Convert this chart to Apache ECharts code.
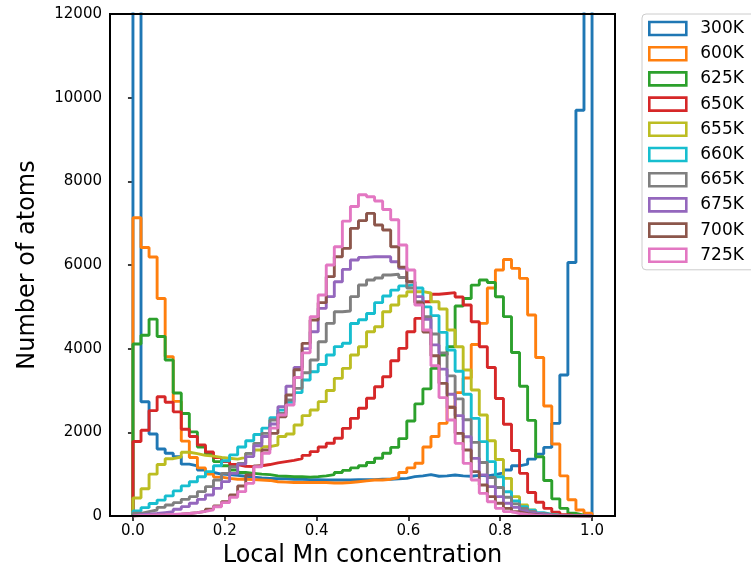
<!DOCTYPE html>
<html>
<head>
<meta charset="utf-8">
<script src="https://cdn.jsdelivr.net/npm/echarts@6/dist/echarts.min.js"></script>
<style>
html,body{margin:0;padding:0;background:#ffffff;}
#chart{width:751px;height:569px;}
</style>
</head>
<body>
<div id="chart"></div>
<script>
// ---- data ----
const nBins = 57; // histogram bins spanning 0..1
const xTickValues = [0, 0.2, 0.4, 0.6, 0.8, 1.0];
const yMax = 12000;
const yInterval = 2000;
const seriesNames = ['300K','600K','625K','650K','655K','660K','665K','675K','700K','725K'];
const seriesColors = ['#1f77b4','#ff7f0e','#2ca02c','#d62728','#bcbd22','#17becf','#7f7f7f','#9467bd','#8c564b','#e377c2'];

const counts300K = [30000,2730,1960,1600,1500,1420,1240,1200,1100,1040,
  1000,990,970,950,930,910,900,890,890,880,
  880,870,870,860,860,860,860,870,870,870,
  880,880,890,900,940,960,990,950,960,980,
  960,950,970,960,990,1030,1100,1200,1240,1360,
  1480,1640,2215,3370,6060,9700,30000];
const counts600K = [7130,6420,6190,5200,3810,2740,1790,1400,1150,1000,
  930,900,880,880,870,860,850,820,810,800,
  800,800,800,800,790,790,800,820,840,860,
  860,880,920,1040,1150,1260,1650,1900,2215,2600,
  2950,3300,4100,4605,5450,5880,6130,5920,5680,4804,
  3790,2630,1720,960,390,143,64];
const counts625K = [4110,4320,4705,4290,3730,2940,2450,2010,1650,1470,
  1300,1200,1100,1040,1020,1000,990,960,950,940,
  940,930,940,960,990,1040,1090,1150,1200,1280,
  1380,1500,1640,1850,2270,2680,3040,3530,3850,4050,
  5020,5200,5520,5640,5580,5240,4765,3910,3100,2285,
  1418,850,410,183,64,20,5];
const counts650K = [1780,2050,2520,2850,2720,2490,2075,1900,1700,1530,
  1400,1300,1230,1190,1180,1200,1230,1270,1300,1330,
  1370,1450,1540,1650,1740,1860,2095,2334,2574,2813,
  3091,3330,3710,4007,4405,4724,5123,5300,5320,5340,
  5235,5043,4645,4047,3550,2810,2195,1566,1020,560,
  330,183,90,30,10,3,1];
const counts655K = [430,650,1000,1230,1370,1410,1525,1490,1450,1430,
  1400,1380,1360,1400,1498,1577,1657,1697,1900,1960,
  2175,2400,2533,2733,3000,3290,3529,3848,4047,4405,
  4525,4884,5043,5258,5362,5362,5330,5123,4950,4445,
  4047,3489,3011,2414,1800,1350,900,462,263,143,
  60,30,12,5,2,1,0];
const counts660K = [120,200,300,380,480,600,720,820,940,1060,
  1200,1320,1460,1650,1800,1950,2100,2350,2530,2720,
  2950,3250,3450,3620,3850,4050,4130,4600,4690,4840,
  5100,5260,5400,5500,5530,5450,5000,4790,4390,3967,
  3460,2910,2334,1777,1299,940,580,360,220,140,
  80,40,20,10,5,2,1];
const counts665K = [64,104,143,207,263,319,398,462,582,701,
  860,1020,1179,1259,1498,1737,1976,2294,2454,2773,
  3051,3425,3728,4166,4605,4884,4900,5243,5521,5640,
  5690,5760,5780,5700,5450,5123,4765,4350,3900,3350,
  2800,2300,1760,1280,920,680,450,290,180,110,
  60,30,15,8,4,2,1];
const counts675K = [30,45,60,80,100,160,223,303,398,502,
  661,821,1020,1240,1420,1680,1900,2200,2613,3100,
  3550,4000,4405,4964,5243,5600,5895,6118,6182,6198,
  6200,6198,6079,5919,5600,5243,4700,4090,3510,2910,
  2400,1896,1378,980,701,462,303,207,120,70,
  40,20,10,5,2,1,0];
const counts700K = [10,15,20,25,35,45,60,80,110,160,
  239,343,502,717,980,1195,1577,1976,2374,2892,
  3497,4127,4685,5100,5721,6198,6397,6876,7060,7234,
  6955,6835,6437,5950,5600,5100,4400,3830,3171,2600,
  1976,1577,1060,741,462,303,183,100,55,30,
  15,8,4,2,1,0,0];
const counts725K = [15,20,25,30,40,50,60,80,110,150,
  220,320,450,582,781,1179,1500,2100,2414,2653,
  3310,3900,4765,5282,6000,6437,7050,7400,7680,7630,
  7530,7325,7080,6477,5879,5043,4445,3590,2830,2294,
  1737,1259,860,542,342,183,104,60,35,20,
  10,5,2,1,0,0,0];

const allCounts = [counts300K,counts600K,counts625K,counts650K,counts655K,
  counts660K,counts665K,counts675K,counts700K,counts725K];

// step outline of a histogram (like histtype='step'), built from bin edges
function stepOutline(vals){
  const pts = [[0, 0]];
  for (let k = 0; k < vals.length; k++) pts.push([k / nBins, vals[k]]);
  pts.push([1, 0]);
  return pts;
}

const FONT = 'DejaVu Sans';
const chart = echarts.init(document.getElementById('chart'), null, {renderer:'canvas'});

const series = allCounts.map((vals, i) => ({
  name: seriesNames[i],
  type: 'line',
  step: 'end',
  data: stepOutline(vals),
  showSymbol: false,
  symbol: 'none',
  clip: true,
  lineStyle: {color: seriesColors[i], width: 2.9},
  itemStyle: {color: seriesColors[i]},
  emphasis: {disabled: true},
  z: 2 + i
}));

const option = {
  animation: false,
  backgroundColor: '#ffffff',
  grid: {left: 110, right: 136, top: 14, bottom: 53, show: true,
         outerBoundsMode: 'none', containLabel: false,
         borderColor: '#000', borderWidth: 2, backgroundColor: 'transparent', z: 20},
  legend: {
    orient: 'vertical', left: 642, top: 14,
    padding: [6, 12, 6, 6],
    itemWidth: 37, itemHeight: 13, itemGap: 8.2,
    backgroundColor: 'rgba(255,255,255,0.8)',
    borderColor: '#cccccc', borderWidth: 1, borderRadius: 4,
    textStyle: {fontFamily: FONT, fontSize: 17, color: '#000', lineHeight: 17, padding: [0,0,0,9]},
    data: seriesNames.map((n, i) => ({
      name: n, icon: 'rect',
      itemStyle: {color: '#ffffff', borderColor: seriesColors[i], borderWidth: 2.6}
    }))
  },
  xAxis: {
    type: 'value', min: -0.05, max: 1.05,
    name: 'Local Mn concentration', nameLocation: 'middle', nameGap: 26,
    nameTextStyle: {fontFamily: FONT, fontSize: 24, color: '#000'},
    axisLine: {show: false},
    splitLine: {show: false},
    axisTick: {show: true, inside: false, length: 5, customValues: xTickValues,
               lineStyle: {color: '#000', width: 1.5}},
    axisLabel: {customValues: xTickValues, margin: 8, color: '#000', fontFamily: FONT, fontSize: 15,
                formatter: v => v.toFixed(1)}
  },
  yAxis: {
    type: 'value', min: 0, max: yMax, interval: yInterval,
    name: 'Number of atoms', nameLocation: 'middle', nameRotate: 90, nameGap: 70,
    nameTextStyle: {fontFamily: FONT, fontSize: 24, color: '#000'},
    axisLine: {show: false},
    splitLine: {show: false},
    axisTick: {show: true, inside: false, length: 5, lineStyle: {color: '#000', width: 1.5}},
    axisLabel: {margin: 8, color: '#000', fontFamily: FONT, fontSize: 15,
                formatter: v => String(v)}
  },
  series: series
};
chart.setOption(option);
</script>
</body>
</html>
